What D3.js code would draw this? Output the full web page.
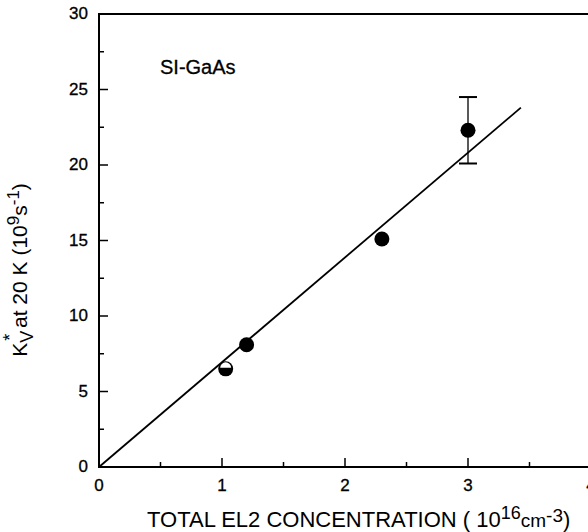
<!DOCTYPE html>
<html>
<head>
<meta charset="utf-8">
<script src="https://cdn.jsdelivr.net/npm/d3@7"></script>
<style>
  body { margin: 0; background: #fff; }
  svg { font-family: "Liberation Sans", Arial, sans-serif; }
</style>
</head>
<body>
<div id="chart"></div>
<script>
// measured points (EL2 concentration, Kv* at 20 K)
const concentration = [1.03, 1.2, 2.3, 3.0];
const rate = [6.5, 8.1, 15.1, 22.3];
const halfFilled = [true, false, false, false];
const errLow = [null, null, null, 20.1];
const errHigh = [null, null, null, 24.5];
const fitLine = [[0, 0], [3.43, 23.8]];
const xTicks = [0, 1, 2, 3, 4];
const yTicks = [0, 5, 10, 15, 20, 25, 30];

const width = 588, height = 532;
const margin = { top: 14, right: -3, bottom: 65, left: 99 };

const svg = d3.select('#chart').append('svg')
  .attr('width', width)
  .attr('height', height);

const x = d3.scaleLinear().domain([0, 4]).range([margin.left, width - margin.right]);
const y = d3.scaleLinear().domain([0, 30]).range([height - margin.bottom, margin.top]);

// frame
svg.append('rect')
  .attr('x', x(0)).attr('y', y(30))
  .attr('width', x(4) - x(0)).attr('height', y(0) - y(30))
  .attr('fill', 'none').attr('stroke', '#000').attr('stroke-width', 2);

// y ticks (inward)
const yMinor = d3.range(0, 30.01, 2.5);
svg.append('g').selectAll('line').data(yMinor).join('line')
  .attr('x1', x(0)).attr('x2', d => x(0) + (d % 5 === 0 ? 9 : 5))
  .attr('y1', d => y(d)).attr('y2', d => y(d))
  .attr('stroke', '#000').attr('stroke-width', 1.5);

svg.append('g').selectAll('text').data(yTicks).join('text')
  .attr('x', x(0) - 11).attr('y', d => y(d)).attr('dy', '0.32em')
  .attr('text-anchor', 'end').attr('font-size', 17)
  .attr('stroke', '#000').attr('stroke-width', 0.3)
  .text(d => d);

// x ticks (inward)
const xMinor = d3.range(0, 4.01, 0.5);
svg.append('g').selectAll('line').data(xMinor).join('line')
  .attr('x1', d => x(d)).attr('x2', d => x(d))
  .attr('y1', y(0)).attr('y2', d => y(0) - (d % 1 === 0 ? 9 : 5))
  .attr('stroke', '#000').attr('stroke-width', 1.5);

svg.append('g').selectAll('text').data(xTicks).join('text')
  .attr('x', d => x(d)).attr('y', y(0) + 24)
  .attr('text-anchor', 'middle').attr('font-size', 17)
  .attr('stroke', '#000').attr('stroke-width', 0.3)
  .text(d => d);

// fit line
svg.append('path')
  .attr('d', d3.line().x(d => x(d[0])).y(d => y(d[1]))(fitLine))
  .attr('fill', 'none').attr('stroke', '#000').attr('stroke-width', 1.8);

// error bars
const pts = concentration.map((c, i) => ({ c, r: rate[i], half: halfFilled[i], lo: errLow[i], hi: errHigh[i] }));
const eb = svg.append('g').selectAll('g').data(pts.filter(d => d.lo != null)).join('g')
  .attr('stroke', '#000').attr('stroke-width', 1.3);
eb.append('line').attr('x1', d => x(d.c)).attr('x2', d => x(d.c))
  .attr('y1', d => y(d.lo)).attr('y2', d => y(d.hi));
eb.append('line').attr('x1', d => x(d.c) - 9).attr('x2', d => x(d.c) + 9)
  .attr('y1', d => y(d.lo)).attr('y2', d => y(d.lo)).attr('stroke-width', 2);
eb.append('line').attr('x1', d => x(d.c) - 9).attr('x2', d => x(d.c) + 9)
  .attr('y1', d => y(d.hi)).attr('y2', d => y(d.hi)).attr('stroke-width', 2);

// markers
const r = 7.5;
const mk = svg.append('g').selectAll('g').data(pts).join('g')
  .attr('transform', d => `translate(${x(d.c)},${y(d.r)})`);
mk.append('circle').attr('r', r).attr('fill', '#000');
mk.filter(d => d.half).append('path')
  .attr('d', `M${-r + 2},-1 A${r - 2},${r - 2} 0 0 1 ${r - 2},-1 Z`)
  .attr('fill', '#fff');

// annotation
svg.append('text').attr('x', 160).attr('y', 74)
  .attr('font-size', 20).attr('stroke', '#000').attr('stroke-width', 0.3)
  .text('SI-GaAs');

// x axis title
const xt = svg.append('text').attr('x', 147).attr('y', 527).attr('font-size', 22);
xt.append('tspan').text('TOTAL EL2 CONCENTRATION ( 10');
xt.append('tspan').attr('dy', -8).attr('font-size', 18).text('16');
xt.append('tspan').attr('dy', 8).attr('font-size', 19).text('cm');
xt.append('tspan').attr('dy', -5).attr('font-size', 19).text('-3');
xt.append('tspan').attr('dy', 5).text(')');

// y axis title
const yt = svg.append('text')
  .attr('transform', 'translate(27,270) rotate(-90)')
  .attr('text-anchor', 'middle').attr('font-size', 21);
yt.append('tspan').text('K');
yt.append('tspan').attr('dy', 6).attr('font-size', 18).text('V');
yt.append('tspan').attr('dx', -10).attr('dy', -17).attr('font-size', 18).text('*');
yt.append('tspan').attr('dy', 11).text(' at 20 K (10');
yt.append('tspan').attr('dy', -8).attr('font-size', 17).text('9');
yt.append('tspan').attr('dy', 8).text('s');
yt.append('tspan').attr('dy', -8).attr('font-size', 17).text('-1');
yt.append('tspan').attr('dy', 8).text(')');
</script>
</body>
</html>
